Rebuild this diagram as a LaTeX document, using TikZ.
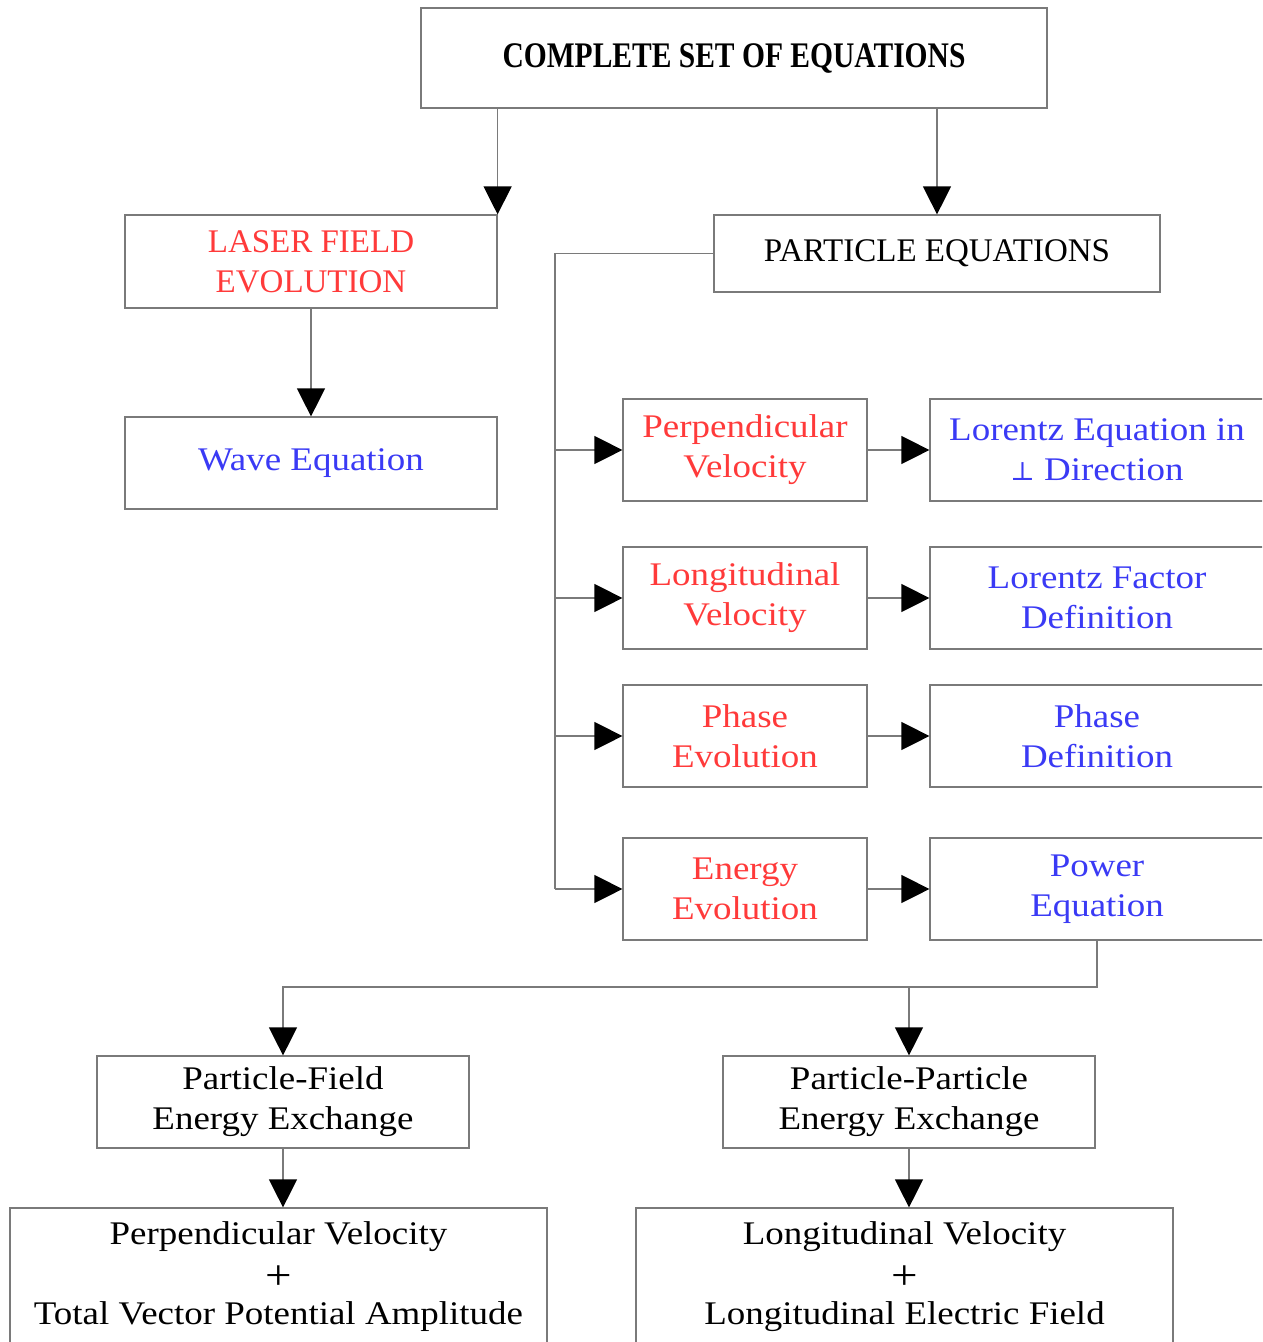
\documentclass[tikz,border=0pt]{standalone}
\usepackage{fontspec}
\setmainfont{Liberation Serif}
\newfontfamily\bodyfont[FakeStretch=1.12]{Liberation Serif}
\newfontfamily\capsfont{Liberation Serif}
\newfontfamily\titlefont[FakeStretch=0.82]{Liberation Serif Bold}
\newfontfamily\symfont{DejaVu Serif}
\usetikzlibrary{arrows.meta,calc}
\definecolor{boxline}{HTML}{7A7A7A}
\definecolor{redtxt}{HTML}{FF3A3A}
\definecolor{bluetxt}{HTML}{3A3AF5}
\newcommand{\bigplus}{\raisebox{-5pt}[0pt][0pt]{\fontsize{42}{40}\selectfont +}}
\begin{document}
\begin{tikzpicture}[x=1pt,y=-1pt,
  box/.style={draw=boxline,line width=1.2pt,fill=white,align=center,inner sep=0pt,
    font=\bodyfont\fontsize{33}{40}\selectfont},
  capsbox/.style={box,font=\capsfont\fontsize{33}{40}\selectfont},
  redbox/.style={box,text=redtxt},
  bluebox/.style={box,text=bluetxt},
  conn/.style={draw=boxline,line width=1.2pt},
  arr/.style={conn,-{Triangle[length=28pt,width=28pt,fill=black,color=black]}}]
\useasboundingbox (0,0) rectangle (1262,1342);
\clip (0,0) rectangle (1262,1342);
\node[box,font=\titlefont\fontsize{36}{40}\selectfont,minimum width=626pt,minimum height=100pt] (top) at (734,58) {COMPLETE SET OF EQUATIONS};
\node[capsbox,text=redtxt,minimum width=372pt,minimum height=93pt] (laser) at (311,261.5) {LASER FIELD\\EVOLUTION};
\node[capsbox,minimum width=446pt,minimum height=77pt] (particle) at (937,253.5) {PARTICLE EQUATIONS};
\node[bluebox,minimum width=372pt,minimum height=92pt] (wave) at (311,463) {Wave Equation};
\node[redbox,minimum width=244pt,minimum height=102pt] (perp) at (745,450) {Perpendicular\\Velocity};
\node[bluebox,minimum width=334pt,minimum height=102pt] (lorEq) at (1097,450) {Lorentz Equation in\\{\symfont\fontsize{26}{40}\selectfont ⊥} Direction};
\node[redbox,minimum width=244pt,minimum height=102pt] (long) at (745,598) {Longitudinal\\Velocity};
\node[bluebox,minimum width=334pt,minimum height=102pt] (lorF) at (1097,598) {Lorentz Factor\\Definition};
\node[redbox,minimum width=244pt,minimum height=102pt] (phase) at (745,736) {Phase\\Evolution};
\node[bluebox,minimum width=334pt,minimum height=102pt] (phaseDef) at (1097,736) {Phase\\Definition};
\node[redbox,minimum width=244pt,minimum height=102pt] (energy) at (745,889) {Energy\\Evolution};
\node[bluebox,minimum width=334pt,minimum height=102pt] (power) at (1097,889) {Power\\Equation};
\node[box,minimum width=372pt,minimum height=92pt] (pf) at (283,1102) {Particle-Field\\Energy Exchange};
\node[box,minimum width=372pt,minimum height=92pt] (pp) at (909,1102) {Particle-Particle\\Energy Exchange};
\node[box,minimum width=537pt,minimum height=138pt] (bl) at (278.5,1277) {Perpendicular Velocity\\\bigplus\\Total Vector Potential Amplitude};
\node[box,minimum width=537pt,minimum height=138pt] (br) at (904.5,1277) {Longitudinal Velocity\\\bigplus\\Longitudinal Electric Field};
% connectors
\draw[arr] (laser.north east |- top.south) -- (laser.north east);
\draw[arr] (particle.north |- top.south) -- (particle.north);
\draw[arr] (laser.south) -- (wave.north);
\coordinate (bus) at (555,253.5);
\draw[conn] (particle.west) -- (bus) -- (bus |- energy.west);
\draw[arr] (bus |- perp.west) -- (perp.west);
\draw[arr] (bus |- long.west) -- (long.west);
\draw[arr] (bus |- phase.west) -- (phase.west);
\draw[arr] (bus |- energy.west) -- (energy.west);
\draw[arr] (perp.east) -- (lorEq.west);
\draw[arr] (long.east) -- (lorF.west);
\draw[arr] (phase.east) -- (phaseDef.west);
\draw[arr] (energy.east) -- (power.west);
\coordinate (j) at (1097,987);
\draw[arr] (power.south) -- (j) -- (pf.north |- j) -- (pf.north);
\draw[arr] (pp.north |- j) -- (pp.north);
\draw[arr] (pf.south) -- (pf.south |- bl.north);
\draw[arr] (pp.south) -- (pp.south |- br.north);
\end{tikzpicture}
\end{document}
